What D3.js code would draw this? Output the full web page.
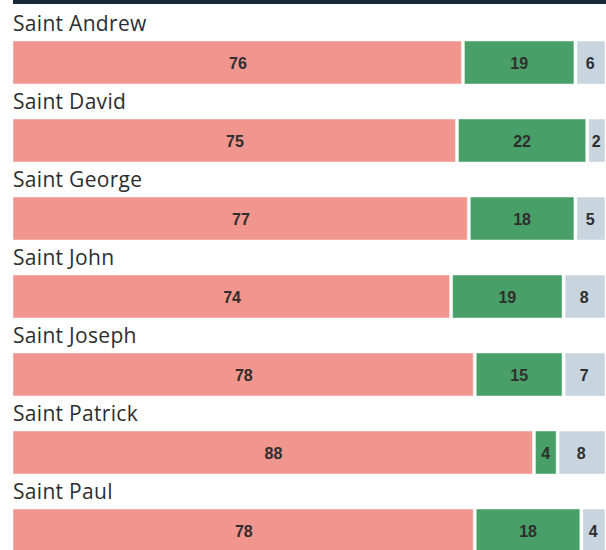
<!DOCTYPE html>
<html>
<head>
<meta charset="utf-8">
<script src="https://cdn.jsdelivr.net/npm/d3@7"></script>
<style>
  body { margin: 0; background: #fff; }
  svg { display: block; }
</style>
</head>
<body>
<div id="container"></div>
<script>
const saints = ["Saint Andrew", "Saint David", "Saint George", "Saint John", "Saint Joseph", "Saint Patrick", "Saint Paul"];
const red = [76, 75, 77, 74, 78, 88, 78];
const green = [19, 22, 18, 19, 15, 4, 18];
const grey = [6, 2, 5, 8, 7, 8, 4];

const colors = ["#f1968f", "#48a068", "#c8d5de"];

const width = 606;
const height = 550;

const svg = d3
  .select("#container")
  .append("svg")
  .attr("width", width)
  .attr("height", height);

// dark rule at the very top
svg
  .append("rect")
  .attr("x", 13)
  .attr("y", 0)
  .attr("width", width - 13)
  .attr("height", 4)
  .attr("fill", "#1b2a38");

const x = d3.scaleLinear().domain([0, 100]).range([13, 605]);

const y = d3
  .scaleBand()
  .domain(saints)
  .range([9, 9 + 78 * saints.length])
  .paddingInner(0);

// stack the three shares; the last one runs to the end of the row
const rows = saints.map((name, i) => {
  const vals = [red[i], green[i], grey[i]];
  let acc = 0;
  const segs = vals.map((v, k) => {
    const x0 = acc;
    const x1 = k === vals.length - 1 ? 100 : acc + v;
    acc += v;
    return { v, k, x0, x1 };
  });
  return { name, segs };
});

const row = svg
  .selectAll("g.row")
  .data(rows)
  .enter()
  .append("g")
  .attr("class", "row")
  .attr("transform", (d) => `translate(0, ${y(d.name)})`);

row
  .append("text")
  .attr("x", 13)
  .attr("y", 22)
  .attr("font-family", "'Open Sans', sans-serif")
  .attr("font-size", 21)
  .attr("letter-spacing", 0.3)
  .attr("fill", "#2e2e2e")
  .text((d) => d.name);

const bar = row
  .selectAll("g.seg")
  .data((d) => d.segs)
  .enter()
  .append("g")
  .attr("class", "seg");

bar
  .append("rect")
  .attr("x", (d) => x(d.x0) + (d.k > 0 ? 1.5 : 0))
  .attr("y", 32)
  .attr("width", (d) => x(d.x1) - x(d.x0) - (d.k > 0 ? 1.5 : 0) - (d.k < 2 ? 1.5 : 0))
  .attr("height", 43)
  .attr("fill", (d) => colors[d.k])
  .attr("stroke", "#ffffff")
  .attr("stroke-opacity", 0.45)
  .attr("stroke-width", 1);

bar
  .append("text")
  .attr("x", (d) => (x(d.x0) + x(d.x1)) / 2)
  .attr("y", 60)
  .attr("text-anchor", "middle")
  .attr("font-family", "'Liberation Sans', Arial, sans-serif")
  .attr("font-weight", "bold")
  .attr("font-size", 16)
  .attr("fill", "#2e2e2e")
  .text((d) => d.v);
</script>
</body>
</html>
